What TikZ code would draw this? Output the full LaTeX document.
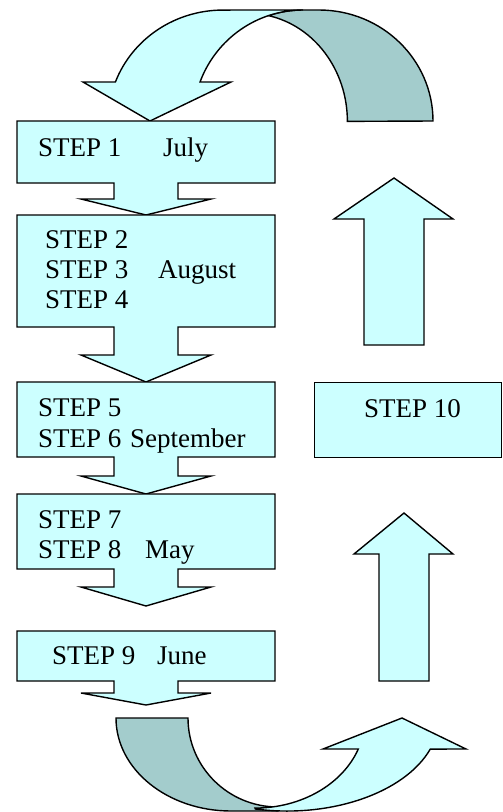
\documentclass[tikz,border=0pt]{standalone}
\usepackage{fontspec}
\setmainfont{Liberation Serif}
\definecolor{paleCyan}{HTML}{CCFFFF}
\definecolor{greyCyan}{HTML}{A3CCCC}
% box with a down arrow under it: top, bottom, neck, tip (y in px)
\newcommand{\callout}[4]{%
  \filldraw [litebox] (17,-#1) -- (275,-#1) -- (275,-#2) -- (178,-#2) -- (178,-#3) -- (211,-#3)
    -- (146,-#4) -- (81,-#3) -- (114,-#3) -- (114,-#2) -- (17,-#2) -- cycle;}
\begin{document}
\begin{tikzpicture}[x=1pt,y=1pt,
    litebox/.style={fill=paleCyan,draw=black,line width=1.4pt},
    darkband/.style={fill=greyCyan,draw=black,line width=1.4pt},
    txt/.style={anchor=base west,inner sep=0pt,font=\fontsize{27}{30}\selectfont}]
    \useasboundingbox (0,0) rectangle (503,-812);
    % curved arrow on top
    \filldraw [darkband] (433,-121) arc[start angle=0,end angle=90,x radius=114pt,y radius=111pt] -- (303,-10)
      arc[start angle=90,end angle=108.3,x radius=110pt,y radius=111pt]
      arc[start angle=78.3,end angle=0,x radius=99pt,y radius=108pt] -- cycle;
    \filldraw [litebox] (83,-82) -- (115.4,-82) arc[start angle=159.4,end angle=90,x radius=115pt,y radius=111pt] -- (303,-10)
      arc[start angle=90,end angle=159.4,x radius=110pt,y radius=111pt] -- (231,-82) -- (150,-121) -- cycle;
    % left column
    \foreach \t/\b/\n/\p in {121/183/199/215, 215/327/355/382, 382/457/476/494, 494/569/587/606, 631/681/693/705}
      \callout{\t}{\b}{\n}{\p};
    \node [txt] (s1) at (38,-156) {STEP 1};
    \node [txt] (jul) at (163,-156) {July};
    \node [txt] (s2) at (45,-248) {STEP 2};
    \node [txt] (s3) at (45,-278) {STEP 3};
    \node [txt] (aug) at (158,-278) {August};
    \node [txt] (s4) at (45,-308) {STEP 4};
    \node [txt] (s5) at (38,-416) {STEP 5};
    \node [txt] (s6) at (38,-447) {STEP 6};
    \node [txt] (sep) at (130,-447) {September};
    \node [txt] (s7) at (38,-528) {STEP 7};
    \node [txt] (s8) at (38,-558) {STEP 8};
    \node [txt] (may) at (145,-558) {May};
    \node [txt] (s9) at (52,-664) {STEP 9};
    \node [txt] (jun) at (157,-664) {June};
    % curved arrow at the bottom
    \filldraw [darkband] (116,-718) arc[start angle=180,end angle=270,x radius=115pt,y radius=93pt] -- (278,-811)
      -- (278,-807) arc[start angle=270,end angle=180,x radius=90pt,y radius=89pt] -- cycle;
    \filldraw [litebox] (255.4,-809) arc[start angle=258,end angle=340.5,x radius=152pt,y radius=93pt]
      -- (466,-749) -- (402,-718) -- (323,-749) -- (358.3,-749)
      arc[start angle=339.9,end angle=270,x radius=110pt,y radius=90pt] -- cycle;
    % right column
    \filldraw [litebox] (379,-681) -- (379,-554) -- (354,-554) -- (404,-513) -- (453,-554) -- (429,-554) -- (429,-681) -- cycle;
    \node [litebox, anchor=north west, inner sep=0pt, minimum width=187pt, minimum height=75pt] (b10) at (314,-382) {};
    \node [txt] (s10) at (364,-417) {STEP 10};
    \filldraw [litebox] (364,-345) -- (364,-219) -- (334,-219) -- (394,-178) -- (453,-219) -- (424,-219) -- (424,-345) -- cycle;
\end{tikzpicture}
\end{document}
